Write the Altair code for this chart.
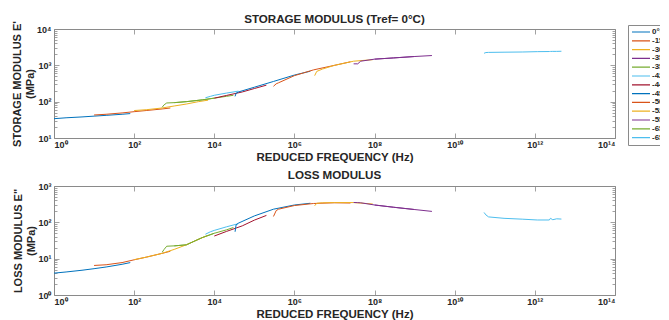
import altair as alt
import pandas as pd
import json

# ---------------- data ----------------
series_ids = ["s01", "s02", "s03", "s04", "s05", "s06", "s07",
              "s08", "s09", "s10", "s11", "s12", "s13"]
series_labels = ["0°C", "-15°C", "-30°C", "-35°C", "-35°C", "-42°C", "-44°C",
                 "-45°C", "-50°C", "-52°C", "-55°C", "-65°C", "-65°C"]
series_colors = ["#0072BD", "#D95319", "#EDB120", "#7E2F8E", "#77AC30", "#4DBEEE", "#A2142F",
                 "#0072BD", "#D95319", "#EDB120", "#7E2F8E", "#77AC30", "#4DBEEE"]

# reduced frequency (Hz), storage modulus E' (MPa), loss modulus E" (MPa)
f_s01 = [1, 2, 5, 10, 20, 50, 80]
e1_s01 = [34, 36, 38, 40, 42, 45, 47]
e2_s01 = [4.0, 4.3, 4.8, 5.3, 5.9, 7.0, 7.8]

f_s02 = [10, 20, 50, 100, 200, 500, 800]
e1_s02 = [43, 45, 49, 53, 57, 63, 67]
e2_s02 = [6.5, 6.8, 7.8, 9.3, 11, 14, 16]

f_s03 = [100, 200, 500, 1000, 2000, 4000, 7000]
e1_s03 = [57, 60, 67, 76, 86, 100, 110]
e2_s03 = [9.4, 11, 14, 18, 24, 34, 44]

# hidden under the -55 °C trace (same colour) in the reference
f_s04 = [100000000, 300000000, 1000000000]
e1_s04 = [1480, 1600, 1750]
e2_s04 = [300, 260, 225]

f_s05 = [500, 560, 650, 1000, 2000, 5000, 10000, 20000, 30000]
e1_s05 = [70, 82, 92, 94, 100, 112, 125, 140, 150]
e2_s05 = [15, 18, 22, 22.5, 24, 38, 50, 62, 72]

f_s06 = [6000, 8000, 10000, 20000, 40000]
e1_s06 = [128, 140, 150, 172, 195]
e2_s06 = [47, 55, 60, 75, 92]

f_s07 = [10000, 20000, 50000, 100000, 200000]
e1_s07 = [125, 148, 185, 230, 285]
e2_s07 = [42, 56, 80, 115, 155]

f_s08 = [33000, 35000, 40000, 100000, 300000, 1000000, 2500000]
e1_s08 = [140, 170, 185, 250, 360, 540, 690]
e2_s08 = [55, 85, 95, 150, 230, 300, 335]

f_s09 = [300000, 350000, 400000, 1000000, 3000000, 10000000, 25000000]
e1_s09 = [265, 310, 330, 520, 750, 1000, 1250]
e2_s09 = [145, 210, 230, 290, 330, 345, 340]

f_s10 = [3200000, 3600000, 5000000, 10000000, 30000000, 90000000]
e1_s10 = [520, 680, 790, 1000, 1300, 1430]
e2_s10 = [285, 335, 345, 350, 350, 320]

f_s11 = [30000000, 38000000, 45000000, 100000000, 300000000, 1000000000, 2700000000]
e1_s11 = [1100, 1100, 1300, 1480, 1600, 1750, 1860]
e2_s11 = [352, 348, 345, 300, 260, 225, 200]

# hidden under the -35 °C green trace (same colour) in the reference
f_s12 = [1000, 2000, 5000, 10000]
e1_s12 = [94, 100, 112, 125]
e2_s12 = [22.5, 24, 38, 50]

f_s13 = [5.4e10, 6.0e10, 7.0e10, 1.7e11, 5e11, 1.15e12, 2.3e12, 2.45e12, 2.8e12, 3.5e12, 4.6e12]
e1_s13 = [2150, 2250, 2270, 2300, 2330, 2380, 2400, 2410, 2420, 2420, 2440]
e2_s13 = [187, 160, 141, 129, 122, 116, 116, 129, 118, 125, 123]

x_ticks = [1, 1e2, 1e4, 1e6, 1e8, 1e10, 1e12, 1e14]
y_ticks_storage = [m * 10 ** k for k in range(1, 4) for m in range(1, 10)] + [10000]
y_ticks_loss = [m * 10 ** k for k in range(0, 3) for m in range(1, 10)] + [1000]

# ---------------- table ----------------
blocks = [
    ("s04", f_s04, e1_s04, e2_s04), ("s12", f_s12, e1_s12, e2_s12),
    ("s01", f_s01, e1_s01, e2_s01), ("s02", f_s02, e1_s02, e2_s02),
    ("s03", f_s03, e1_s03, e2_s03), ("s05", f_s05, e1_s05, e2_s05),
    ("s06", f_s06, e1_s06, e2_s06), ("s07", f_s07, e1_s07, e2_s07),
    ("s08", f_s08, e1_s08, e2_s08), ("s09", f_s09, e1_s09, e2_s09),
    ("s10", f_s10, e1_s10, e2_s10), ("s11", f_s11, e1_s11, e2_s11),
    ("s13", f_s13, e1_s13, e2_s13),
]
rows = []
for sid, fs, e1, e2 in blocks:
    for i, (a, b, c) in enumerate(zip(fs, e1, e2)):
        rows.append({"series": sid, "freq": a, "storage": b, "loss": c, "idx": i})
df = pd.DataFrame(rows)

# ---------------- helpers ----------------
W, H = 561, 109
FONT = "Liberation Sans"
TXT = "#262626"
GRAY = "#8a8a8a"
sup = ["⁰", "¹", "²", "³", "⁴", "⁵", "⁶", "⁷", "⁸", "⁹", "¹⁰", "¹¹", "¹²", "¹³", "¹⁴"]
EXP = "round(log(datum.value)/LN10)"
IS_DEC = f"abs(log(datum.value)/LN10 - {EXP}) < 0.001"
pow_label = f"'10' + {json.dumps(sup, ensure_ascii=False)}[{EXP}]"
x_label_expr = pow_label
y_label_expr = f"{IS_DEC} ? {pow_label} : ''"
y_tick_size = {"condition": {"test": IS_DEC, "value": 5}, "value": 3}

legend_label_expr = (
    json.dumps(dict(zip(series_ids, series_labels)), ensure_ascii=False)
    + "[datum.label]"
)


def tick_axis(orient, off, vals, size):
    return alt.Axis(orient=orient, offset=off, values=vals, labels=False, ticks=True,
                    tickSize=size, domain=False, grid=False, title=None,
                    minExtent=0, maxExtent=0)


def panel(col, ydom, yvals, ytitle, ttl, show_legend, title_offset):
    xs = alt.Scale(type="log", domain=[1, 1e14])
    ys = alt.Scale(type="log", domain=ydom)
    if show_legend:
        leg = alt.Legend(
            title=None, orient="none", legendX=574, legendY=-4,
            symbolType="stroke", symbolSize=324, symbolStrokeWidth=1.2,
            labelFontSize=8, labelFontWeight="bold", labelFont=FONT, labelColor=TXT,
            labelOffset=1, clipHeight=8, rowPadding=0.8, padding=3,
            strokeColor=GRAY, fillColor="white", labelExpr=legend_label_expr,
        )
    else:
        leg = None
    lines = alt.Chart(df).mark_line(strokeWidth=1, clip=True).encode(
        x=alt.X("freq:Q", scale=xs, axis=alt.Axis(
            orient="bottom", values=x_ticks, labelExpr=x_label_expr, ticks=False,
            domain=False, grid=False, labelPadding=2,
            title="REDUCED FREQUENCY (Hz)", titlePadding=2, titleFontSize=11.5)),
        y=alt.Y(f"{col}:Q", scale=ys, axis=alt.Axis(
            orient="left", values=yvals, labelExpr=y_label_expr, ticks=False,
            domain=False, grid=False, labelPadding=3,
            title=ytitle, titlePadding=1, titleLineHeight=13, titleFontSize=11)),
        color=alt.Color("series:N", scale=alt.Scale(domain=series_ids, range=series_colors), legend=leg),
        order="idx:Q",
    )
    ticks_a = alt.Chart(df).mark_line(opacity=0).encode(
        x=alt.X("freq:Q", scale=xs, axis=tick_axis("top", -H, x_ticks, 5)),
        y=alt.Y(f"{col}:Q", scale=ys, axis=tick_axis("right", -W, yvals, y_tick_size)),
    )
    ticks_b = alt.Chart(df).mark_line(opacity=0).encode(
        x=alt.X("freq:Q", scale=xs, axis=tick_axis("bottom", -H, x_ticks, 5)),
        y=alt.Y(f"{col}:Q", scale=ys, axis=tick_axis("left", -W, yvals, y_tick_size)),
    )
    return alt.layer(lines, ticks_a, ticks_b).resolve_axis(
        x="independent", y="independent"
    ).properties(
        width=W, height=H,
        title=alt.TitleParams(ttl, fontSize=11.6, fontWeight="bold", font=FONT,
                              color=TXT, offset=title_offset, anchor="middle"),
    )


top = panel("storage", [10, 10000], y_ticks_storage,
            ["STORAGE MODULUS E'", "(MPa)"], "STORAGE MODULUS (Tref= 0°C)", True, -5)
bottom = panel("loss", [1, 1000], y_ticks_loss,
               ['LOSS MODULUS E"', "(MPa)"], "LOSS MODULUS", False, 0)

chart = alt.vconcat(top, bottom, spacing=6).resolve_scale(color="independent").properties(
    padding={"left": 3, "top": 5, "right": -17, "bottom": 0}
).configure_view(
    stroke=GRAY, strokeWidth=1
).configure_axis(
    labelFont=FONT, labelFontSize=9, labelFontWeight="bold", labelColor=TXT,
    titleFont=FONT, titleFontWeight="bold", titleColor=TXT,
    tickColor=GRAY, tickWidth=0.8,
)

chart.save("out.html", embed_options={"renderer": "svg", "actions": False})
